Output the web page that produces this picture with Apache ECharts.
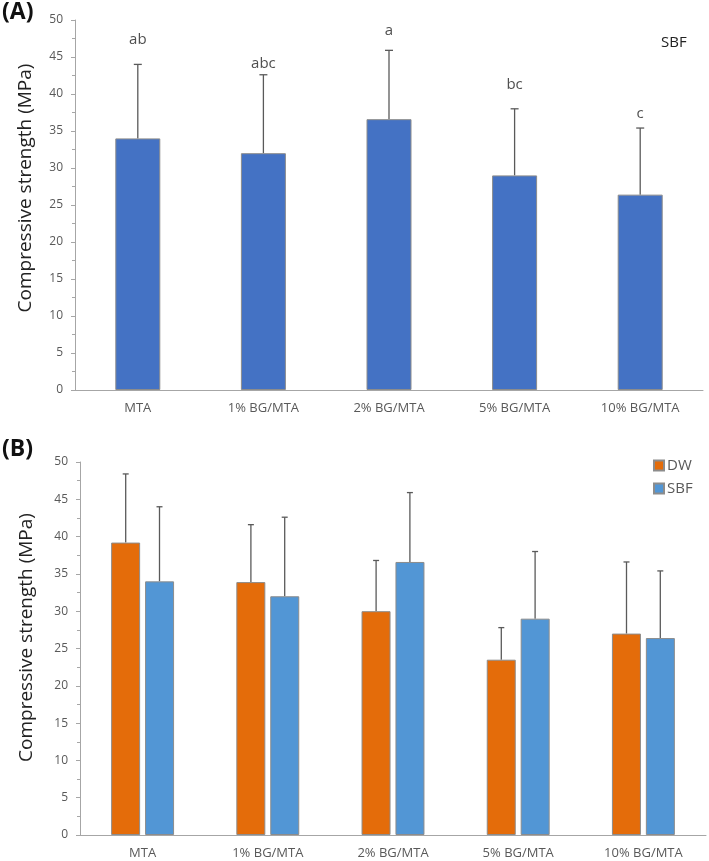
<!DOCTYPE html>
<html>
<head>
<meta charset="utf-8">
<script src="https://cdn.jsdelivr.net/npm/echarts@6/dist/echarts.min.js"></script>
<style>
html,body{margin:0;padding:0;background:#fff;}
#c{width:709px;height:861px;}
</style>
</head>
<body>
<div id="c"></div>
<script>
const categories = ['MTA', '1% BG/MTA', '2% BG/MTA', '5% BG/MTA', '10% BG/MTA'];
const sbfMean = [34.0, 32.0, 36.6, 29.0, 26.4];
const sbfErr = [10.0, 10.6, 9.3, 9.0, 9.0];
const dwMean = [39.2, 33.9, 30.0, 23.5, 27.0];
const dwErr = [9.2, 7.7, 6.8, 4.3, 9.6];
const letters = ['ab', 'abc', 'a', 'bc', 'c'];
const letterY = [47.3, 44.1, 48.6, 41.3, 37.3];
const yTicks = [0, 50, 5];

const FONT = 'Open Sans';
const AXIS_GRAY = '#a6a6a6';
const TXT_GRAY = '#595959';
const ERR_COLOR = '#5a5a5a';

function yAxisCfg(gridIndex, gap, shift) {
  return {
    type: 'value', gridIndex: gridIndex, min: yTicks[0], max: yTicks[1], interval: yTicks[2],
    name: 'Compressive strength (MPa)', nameLocation: 'middle', nameGap: gap, nameRotate: 90,
    nameTextStyle: {fontFamily: FONT, fontSize: 19, color: '#222', padding: [0, 0, 0, shift]},
    axisLine: {show: true, lineStyle: {color: AXIS_GRAY, width: 1}},
    axisTick: {show: true, length: 4, lineStyle: {color: AXIS_GRAY}},
    minorTick: {show: true, splitNumber: 2, length: 3, lineStyle: {color: AXIS_GRAY}},
    splitLine: {show: false},
    axisLabel: {fontFamily: FONT, fontSize: 12, color: TXT_GRAY, margin: 12}
  };
}
function xAxisCfg(gridIndex) {
  return {
    type: 'category', gridIndex: gridIndex, data: categories,
    axisLine: {show: true, lineStyle: {color: AXIS_GRAY, width: 1}},
    axisTick: {show: false},
    axisLabel: {fontFamily: FONT, fontSize: 13, color: TXT_GRAY, margin: 12, interval: 0}
  };
}
function errSeries(name, xi, yi, means, errs, offset, capHalf) {
  return {
    type: 'custom', name: name + ' err', xAxisIndex: xi, yAxisIndex: yi, z: 1,
    silent: true,
    data: means.map((m, i) => [i, m, m + errs[i]]),
    renderItem: function (params, api) {
      const p0 = api.coord([api.value(0), api.value(1)]);
      const p1 = api.coord([api.value(0), api.value(2)]);
      const x = p0[0] + offset;
      return {
        type: 'group',
        children: [
          {type: 'line', shape: {x1: x, y1: p0[1], x2: x, y2: p1[1]}, style: {stroke: ERR_COLOR, lineWidth: 1.3}},
          {type: 'line', shape: {x1: x - capHalf, y1: p1[1], x2: x + capHalf, y2: p1[1]}, style: {stroke: ERR_COLOR, lineWidth: 1.3}}
        ]
      };
    }
  };
}

const chart = echarts.init(document.getElementById('c'), null, {renderer: 'canvas'});
const option = {
  animation: false,
  backgroundColor: '#fff',
  graphic: [
    {type: 'text', left: 2, top: 1, style: {text: '(A)', font: 'bold 23px "Open Sans"', fill: '#111'}},
    {type: 'text', left: 2, top: 438, style: {text: '(B)', font: 'bold 23px "Open Sans"', fill: '#111'}}
  ],
  legend: [
    {
      data: ['SBF '], left: 650, top: 30, orient: 'vertical',
      itemWidth: 0, itemHeight: 0, itemGap: 6,
      textStyle: {fontFamily: FONT, fontSize: 15, color: '#222'}
    },
    {
      data: ['DW', 'SBF'], left: 648, top: 453, orient: 'vertical',
      itemWidth: 10, itemHeight: 10, itemGap: 8, icon: 'rect',
      textStyle: {fontFamily: FONT, fontSize: 15, color: TXT_GRAY, padding: [0, 0, 0, -2]}
    }
  ],
  grid: [
    {left: 75, right: 6, top: 20, bottom: 471},
    {left: 80, right: 3, top: 462, bottom: 26}
  ],
  xAxis: [xAxisCfg(0), xAxisCfg(1)],
  yAxis: [yAxisCfg(0, 40, 34), yAxisCfg(1, 44, 22)],
  series: [
    {
      type: 'bar', name: 'SBF ', xAxisIndex: 0, yAxisIndex: 0, data: sbfMean, barWidth: 45, z: 2,
      itemStyle: {color: '#4472c4', borderColor: '#8c8c8c', borderWidth: 1}
    },
    errSeries('A', 0, 0, sbfMean, sbfErr, 0, 4),
    {
      type: 'scatter', xAxisIndex: 0, yAxisIndex: 0, symbolSize: 0, silent: true,
      data: letterY.map((v, i) => [i, v]),
      label: {
        show: true, position: 'inside', fontFamily: FONT, fontSize: 15, color: '#222',
        formatter: p => letters[p.dataIndex]
      }
    },
    {
      type: 'bar', name: 'DW', xAxisIndex: 1, yAxisIndex: 1, data: dwMean, barWidth: 29, barGap: '17%', z: 2,
      itemStyle: {color: '#e46c0a', borderColor: '#8c8c8c', borderWidth: 1}
    },
    {
      type: 'bar', name: 'SBF', xAxisIndex: 1, yAxisIndex: 1, data: sbfMean, barWidth: 29, barGap: '17%', z: 2,
      itemStyle: {color: '#5296d5', borderColor: '#8c8c8c', borderWidth: 1}
    },
    errSeries('DW', 1, 1, dwMean, dwErr, -16.9, 3),
    errSeries('SBF', 1, 1, sbfMean, sbfErr, 16.9, 3)
  ]
};
chart.setOption(option);
</script>
</body>
</html>
